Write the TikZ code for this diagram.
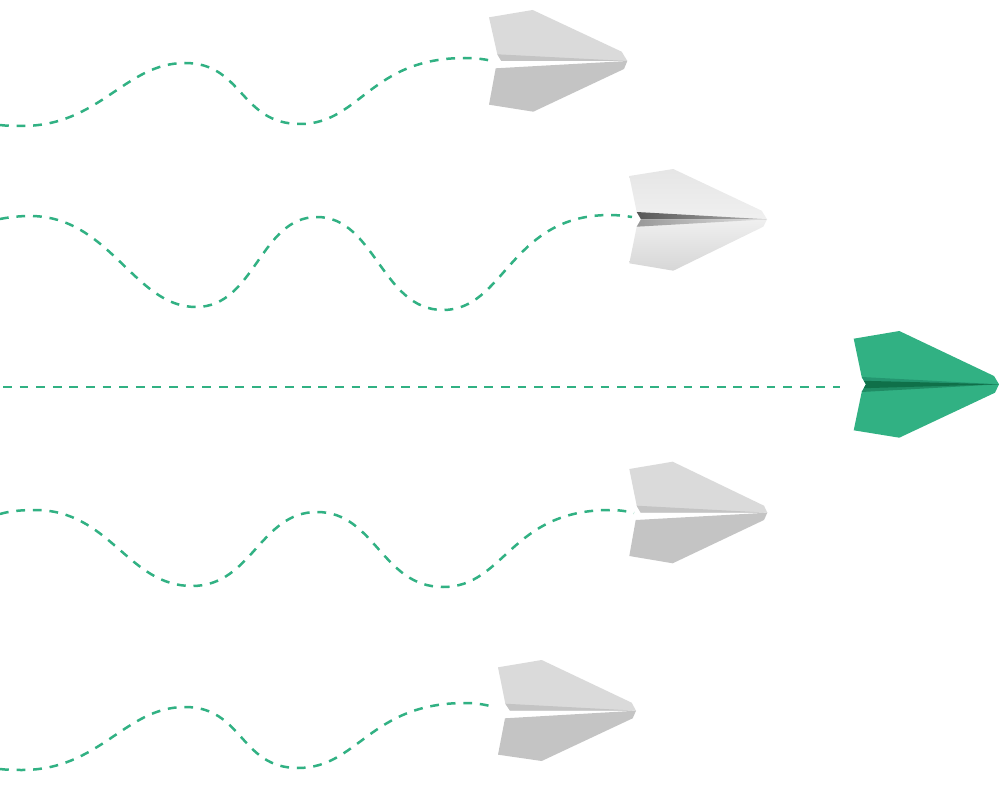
\documentclass[tikz,border=0pt]{standalone}
\definecolor{planegreen}{HTML}{31B183}
\definecolor{foldhi}{HTML}{249670}
\definecolor{folddark}{HTML}{0F7049}
\definecolor{foldlow}{HTML}{1F8C64}
\definecolor{wingtop}{HTML}{DADADA}
\definecolor{wingbot}{HTML}{C4C4C4}
\tikzset{
  x=1pt,y=-1pt,
  trail/.style={draw=planegreen,line width=2.5pt,dash pattern=on 8.8pt off 7.8pt},
  wingup/.style={fill=wingtop},
  wingdown/.style={fill=wingbot},
  foldflat/.style={fill=wingbot}
}
\begin{document}
\begin{tikzpicture}[line join=round]
\useasboundingbox (0,0) rectangle (999,805);
% trails
\draw[trail] (0,125) .. controls (8,126) and (15,126) .. (22,126) .. controls (100,126) and (125,63) .. (185,63) .. controls (243,63) and (240,124) .. (300,124) .. controls (360,124) and (370,58) .. (465,58) .. controls (475,58) and (484,59) .. (492,61);
\draw[trail] (0,219) .. controls (10,217) and (20,216) .. (30,216) .. controls (110,216) and (134,307) .. (196,307) .. controls (255,307) and (260,217) .. (317,217) .. controls (375,217) and (382,310) .. (443,310) .. controls (505,310) and (510,215) .. (610,215) .. controls (618,215) and (625,216) .. (632,217);
\draw[trail] (3,387) -- (840,387);
\draw[trail] (0,514) .. controls (10,511) and (22,510) .. (35,510) .. controls (110,510) and (128,586) .. (192,586) .. controls (252,586) and (260,512) .. (317,512) .. controls (375,512) and (382,587) .. (443,587) .. controls (505,587) and (510,510) .. (610,510) .. controls (618,510) and (626,511) .. (634,513);
\draw[trail] (0,769) .. controls (8,770) and (15,770) .. (22,770) .. controls (100,770) and (125,707) .. (185,707) .. controls (243,707) and (240,768) .. (298,768) .. controls (358,768) and (370,703) .. (465,703) .. controls (474,703) and (482,704) .. (490,706);
% plane 1
\fill[wingup] (489,17.3) -- (532.7,10) -- (621.7,51.7) -- (627.3,61) -- (501.3,61) -- (497.3,54.3) -- cycle;
\fill[foldflat] (497.3,54.3) -- (627.3,61) -- (501.3,61) -- cycle;
\fill[wingdown] (495.7,68.3) -- (627.3,61) -- (624,69) -- (533.3,111.7) -- (489,104.7) -- cycle;
% plane 2
\shade[top color=black!10,bottom color=black!6] (629.3,176) -- (673.3,169) -- (761.7,210.7) -- (767,219.3) -- (641,219.3) -- (636.7,212) -- cycle;
\shade[top color=black!6,bottom color=black!16] (641,219.3) -- (767,219.3) -- (763.3,226.7) -- (673.3,270.7) -- (629.3,263.3) -- (636.7,226.7) -- cycle;
\shade[left color=black!66,right color=black!30] (636.7,212) -- (767,219.3) -- (641,219.3) -- cycle;
\shade[left color=black!40,right color=black!12] (641,219.3) -- (767,219.3) -- (636.7,226.7) -- cycle;
% plane 3
\fill[planegreen] (853.7,338.7) -- (899.3,331) -- (994,376) -- (999,384.3) -- (995,392.7) -- (899.3,437.7) -- (853.7,430.3) -- (861.7,392) -- (866,384.3) -- (861.7,377) -- cycle;
\fill[foldhi] (861.7,377) -- (999,384.3) -- (866,384.3) -- cycle;
\fill[foldlow] (866,384.3) -- (999,384.3) -- (861.7,392) -- cycle;
\fill[folddark] (863.8,380.8) -- (999,384.3) -- (863.8,388.2) -- (866,384.3) -- cycle;
% plane 4
\fill[wingup] (629.3,469) -- (672.7,461.7) -- (764,505.7) -- (767.3,512.7) -- (640.7,512.7) -- (636.7,505.7) -- cycle;
\fill[foldflat] (636.7,505.7) -- (767.3,512.7) -- (640.7,512.7) -- cycle;
\fill[wingdown] (635.7,520) -- (767.3,512.7) -- (764,520) -- (672.7,563.3) -- (629.3,556) -- cycle;
% plane 5
\fill[wingup] (498,667.3) -- (541.7,660) -- (631.7,702.7) -- (636,710.7) -- (510,710.7) -- (505.3,703.7) -- cycle;
\fill[foldflat] (505.3,703.7) -- (636,710.7) -- (510,710.7) -- cycle;
\fill[wingdown] (505,718.3) -- (636,710.7) -- (632.7,718.3) -- (541.7,761) -- (498,754.7) -- cycle;
\end{tikzpicture}
\end{document}
